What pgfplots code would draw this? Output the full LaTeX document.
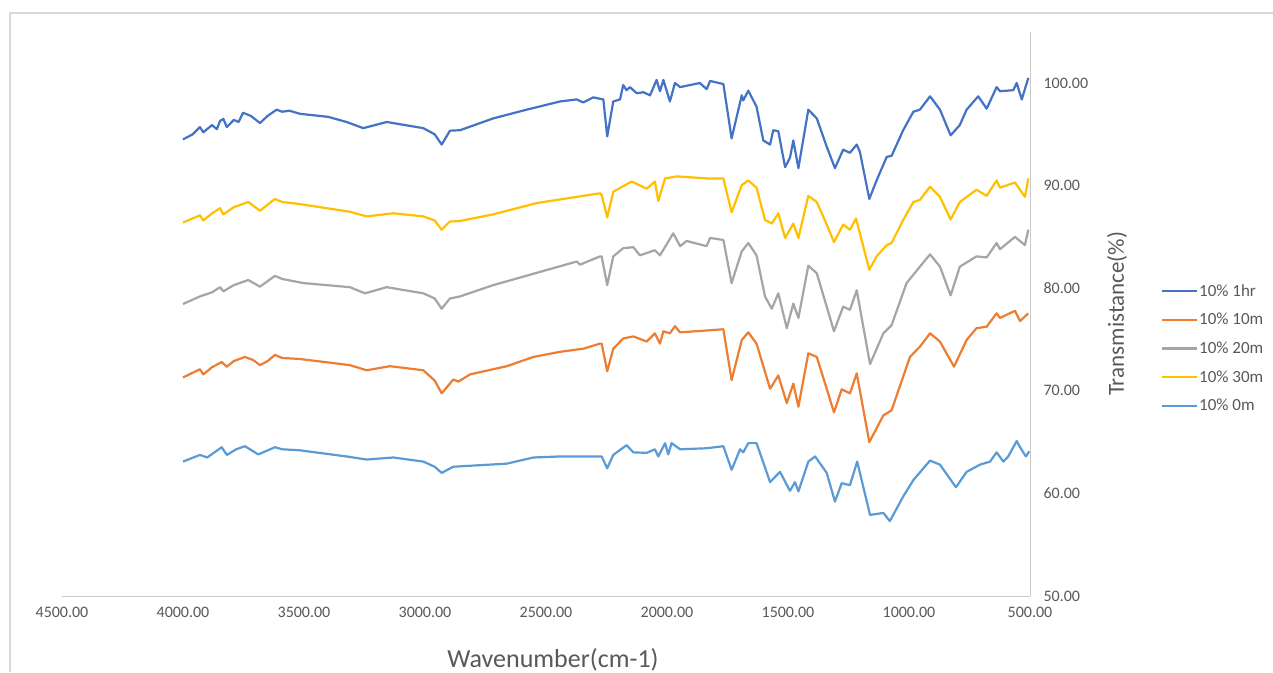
\documentclass[border=0pt]{standalone}
\usepackage{pgfplots}
\pgfplotsset{compat=1.18}
\usepackage{pgfplotstable}
\usepackage{fontspec}
\setmainfont{Carlito}
\definecolor{cHr}{HTML}{4472C4}
\definecolor{cTen}{HTML}{ED7D31}
\definecolor{cTwenty}{HTML}{A5A5A5}
\definecolor{cThirty}{HTML}{FFC000}
\definecolor{cZero}{HTML}{5B9BD5}
\definecolor{txt}{HTML}{595959}
\definecolor{axl}{HTML}{C9C9C9}
\definecolor{frm}{HTML}{D9D9D9}

\pgfplotstableread{
x y
4000 94.5
3960 95.0
3930 95.7
3916 95.2
3880 95.9
3860 95.5
3847 96.3
3833 96.5
3819 95.7
3790 96.4
3770 96.2
3752 97.1
3720 96.8
3682 96.1
3650 96.8
3613 97.4
3590 97.2
3560 97.3
3517 97.0
3400 96.7
3324 96.2
3255 95.6
3158 96.2
3007 95.6
2960 95.0
2931 94.0
2897 95.35
2855 95.4
2718 96.55
2580 97.4
2442 98.2
2373 98.4
2346 98.1
2305 98.6
2263 98.4
2247 94.8
2222 98.2
2194 98.4
2181 99.8
2167 99.3
2153 99.6
2125 99.0
2098 99.1
2070 98.8
2043 100.3
2029 99.2
2015 100.3
1988 98.2
1967 100.0
1946 99.6
1864 100.0
1836 99.4
1822 100.2
1767 99.9
1733 94.6
1691 98.8
1685 98.3
1664 99.25
1630 97.7
1602 94.4
1574 94.0
1561 95.4
1540 95.3
1512 91.8
1492 92.7
1478 94.4
1457 91.7
1416 97.4
1381 96.55
1340 93.8
1306 91.7
1272 93.5
1244 93.2
1216 94.0
1203 93.3
1164 88.7
1134 90.5
1092 92.8
1072 92.9
1024 95.4
982 97.2
955 97.4
913 98.7
872 97.4
828 94.9
790 95.9
762 97.4
714 98.7
679 97.5
638 99.6
624 99.2
569 99.3
555 100.0
534 98.4
507 100.5
}\tHr

\pgfplotstableread{
x y
4000 71.3
3930 72.1
3916 71.6
3880 72.3
3840 72.8
3819 72.35
3790 72.9
3744 73.3
3710 73.0
3682 72.5
3650 72.9
3620 73.5
3590 73.2
3517 73.1
3310 72.5
3241 72.0
3145 72.4
3007 72.0
2960 71.0
2931 69.75
2883 71.1
2862 70.9
2814 71.6
2662 72.4
2552 73.3
2442 73.8
2346 74.1
2277 74.6
2270 74.6
2247 71.9
2222 74.1
2181 75.1
2139 75.3
2084 74.8
2050 75.6
2029 74.6
2015 75.8
1988 75.6
1967 76.3
1946 75.7
1822 75.9
1767 76.0
1733 71.05
1691 74.95
1664 75.7
1630 74.6
1574 70.2
1540 71.5
1505 68.8
1478 70.7
1457 68.45
1416 73.65
1381 73.3
1340 70.2
1310 67.9
1278 70.15
1244 69.75
1216 71.7
1164 65.0
1106 67.6
1072 68.1
996 73.3
955 74.3
913 75.6
872 74.8
814 72.35
762 74.95
721 76.1
679 76.25
638 77.55
624 77.1
562 77.8
541 76.8
507 77.55
}\tTen

\pgfplotstableread{
x y
4000 78.46
3930 79.2
3880 79.6
3847 80.1
3833 79.7
3790 80.3
3730 80.8
3682 80.15
3620 81.2
3590 80.9
3503 80.5
3310 80.1
3248 79.5
3158 80.1
3007 79.5
2960 79.0
2931 78.0
2897 79.0
2855 79.2
2718 80.3
2538 81.5
2373 82.6
2359 82.3
2277 83.1
2270 83.1
2247 80.3
2222 83.1
2181 83.9
2139 84.0
2112 83.2
2050 83.7
2029 83.2
1974 85.35
1946 84.1
1919 84.6
1836 84.1
1822 84.9
1767 84.7
1733 80.5
1691 83.6
1664 84.4
1630 83.2
1595 79.2
1567 78.0
1540 79.5
1505 76.1
1478 78.5
1457 77.1
1416 82.2
1381 81.45
1340 78.2
1310 75.8
1272 78.2
1244 77.9
1216 79.8
1161 72.6
1106 75.6
1072 76.4
1010 80.5
955 82.1
913 83.3
872 82.1
828 79.3
790 82.1
721 83.1
679 83.0
638 84.4
624 83.8
562 85.0
521 84.2
507 85.7
}\tTwenty

\pgfplotstableread{
x y
4000 86.4
3930 87.1
3916 86.6
3880 87.3
3847 87.8
3833 87.2
3790 87.9
3730 88.4
3682 87.55
3620 88.7
3590 88.4
3517 88.2
3310 87.45
3241 87.0
3131 87.3
3007 87.0
2960 86.6
2931 85.7
2897 86.5
2855 86.55
2718 87.2
2538 88.3
2373 88.9
2277 89.25
2270 89.1
2247 86.9
2222 89.4
2146 90.4
2084 89.7
2050 90.4
2036 88.5
2008 90.7
1960 90.9
1836 90.7
1767 90.7
1733 87.4
1691 90.05
1664 90.5
1630 89.8
1595 86.65
1567 86.3
1540 87.3
1512 84.9
1478 86.3
1457 84.9
1416 89.0
1381 88.4
1340 86.2
1310 84.5
1272 86.2
1244 85.7
1219 86.8
1164 81.8
1134 83.1
1092 84.2
1072 84.4
1024 86.65
982 88.4
955 88.6
913 89.9
872 88.9
828 86.7
790 88.4
721 89.6
679 89.0
638 90.5
624 89.8
562 90.3
521 88.9
507 90.7
}\tThirty

\pgfplotstableread{
x y
4000 63.1
3930 63.75
3900 63.5
3840 64.5
3819 63.75
3780 64.3
3744 64.6
3689 63.8
3620 64.5
3590 64.3
3517 64.2
3324 63.6
3241 63.3
3131 63.5
3007 63.1
2960 62.6
2931 62.0
2883 62.6
2662 62.9
2552 63.5
2442 63.6
2277 63.6
2270 63.6
2247 62.45
2222 63.75
2167 64.7
2139 64.0
2084 63.95
2050 64.3
2036 63.6
2008 64.9
1995 63.8
1981 64.9
1946 64.3
1836 64.4
1767 64.6
1733 62.3
1698 64.3
1685 64.0
1664 64.9
1630 64.9
1574 61.1
1533 62.1
1492 60.25
1471 61.1
1457 60.2
1416 63.1
1388 63.6
1340 62.0
1306 59.2
1278 61.0
1244 60.8
1214 63.1
1161 57.9
1106 58.1
1079 57.3
1024 59.7
982 61.3
913 63.2
872 62.8
806 60.6
762 62.1
707 62.8
665 63.1
638 64.0
610 63.1
590 63.6
555 65.1
541 64.5
517 63.6
503 64.1
}\tZero

\begin{document}
\begin{tikzpicture}
\useasboundingbox (-62pt,-76pt) rectangle (1211pt,596pt);
\fill[white] (-62pt,-76pt) rectangle (1211pt,596pt);
\draw[frm, line width=1.2pt] (-52pt,-76pt) -- (-52pt,583pt) -- (1211pt,583pt);
\begin{axis}[
  at={(0pt,0pt)}, anchor=south west,
  scale only axis, width=968pt, height=564.3pt,
  x dir=reverse,
  xmin=500, xmax=4500, ymin=50, ymax=105,
  axis x line=bottom, axis y line=right,
  axis line style={-, axl, line width=1pt},
  xtick={500,1000,...,4500},
  ytick={50,60,...,100},
  major tick length=0pt,
  tick style={draw=none},
  /pgf/number format/assume math mode=true,
  /pgf/number format/.cd, fixed, fixed zerofill, precision=2, 1000 sep={},
  /pgfplots/.cd,
  ticklabel style={font=\fontsize{16}{18}\selectfont, text=txt},
  xticklabel style={anchor=north, yshift=-8pt},
  yticklabel style={anchor=west, xshift=10pt},
  xlabel={Wavenumber(cm-1)},
  xlabel style={at={(axis description cs:0.5,0)}, anchor=center, yshift=-64pt, xshift=7pt, font=\fontsize{26}{28}\selectfont, text=txt},
  ylabel={Transmistance(\%)},
  ylabel style={at={(axis description cs:1,0.5)}, anchor=center, yshift=-87pt, font=\fontsize{23}{25}\selectfont, text=txt},
  legend style={at={(axis description cs:1.132,0.558)}, anchor=north west, draw=none, fill=none,
    font=\fontsize{17}{19}\selectfont, text=txt, row sep=13.6pt,
    nodes={inner sep=1pt}},
  legend cell align=left,
  legend image code/.code={\draw[#1] (0pt,0pt) -- (35pt,0pt);},
  every axis plot/.append style={line width=2.2pt, line join=round},
  clip=false,
]
\addplot[cHr] table {\tHr};
\addlegendentry{10\% 1hr}
\addplot[cTen] table {\tTen};
\addlegendentry{10\% 10m}
\addplot[cTwenty] table {\tTwenty};
\addlegendentry{10\% 20m}
\addplot[cThirty] table {\tThirty};
\addlegendentry{10\% 30m}
\addplot[cZero] table {\tZero};
\addlegendentry{10\% 0m}
\end{axis}
\end{tikzpicture}
\end{document}
